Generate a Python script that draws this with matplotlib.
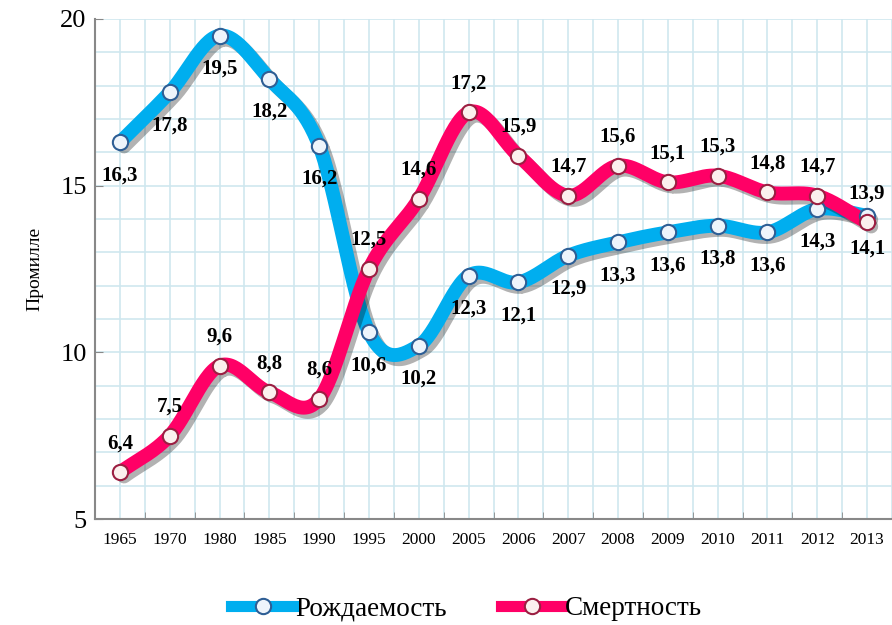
import numpy as np
import matplotlib
matplotlib.use("Agg")
import matplotlib.pyplot as plt
import matplotlib.patheffects as pe
from matplotlib.lines import Line2D

years = ['1965', '1970', '1980', '1985', '1990', '1995', '2000', '2005',
         '2006', '2007', '2008', '2009', '2010', '2011', '2012', '2013']
birth = [16.3, 17.8, 19.5, 18.2, 16.2, 10.6, 10.2, 12.3,
         12.1, 12.9, 13.3, 13.6, 13.8, 13.6, 14.3, 14.1]
death = [6.4, 7.5, 9.6, 8.8, 8.6, 12.5, 14.6, 17.2,
         15.9, 14.7, 15.6, 15.1, 15.3, 14.8, 14.7, 13.9]

BLUE = '#00aeef'
RED = '#ff0066'
SERIF = 'Liberation Serif'


def smooth(x, y, n=30):
    # catmull-rom through the points
    x = np.asarray(x, float)
    y = np.asarray(y, float)
    px = np.concatenate([[2 * x[0] - x[1]], x, [2 * x[-1] - x[-2]]])
    py = np.concatenate([[2 * y[0] - y[1]], y, [2 * y[-1] - y[-2]]])
    t = np.linspace(0, 1, n)
    xs, ys = [], []
    for i in range(1, len(px) - 2):
        for p, out in ((px, xs), (py, ys)):
            p0, p1, p2, p3 = p[i - 1], p[i], p[i + 1], p[i + 2]
            out.append(0.5 * ((2 * p1) + (-p0 + p2) * t
                              + (2 * p0 - 5 * p1 + 4 * p2 - p3) * t ** 2
                              + (-p0 + 3 * p1 - 3 * p2 + p3) * t ** 3))
    return np.concatenate(xs), np.concatenate(ys)


fig = plt.figure(figsize=(8.92, 6.25), dpi=100)
ax = fig.add_axes([95 / 892, 1 - 519 / 625, 797 / 892, 500 / 625])

x = np.arange(len(years))
ax.set_xlim(-0.5, len(years) - 0.5)
ax.set_ylim(5, 20)

# graph-paper grid
for v in np.arange(-0.5, len(years), 0.5):
    ax.axvline(v, color='#cfe7ef', lw=1.2, zorder=0)
for v in np.arange(5, 21, 1):
    ax.axhline(v, color='#cfe7ef', lw=1.2, zorder=0)

shadow = [pe.SimpleLineShadow(offset=(3, -3), shadow_color='black', alpha=0.3), pe.Normal()]

for vals, col, edge, face, dy in ((birth, BLUE, '#2e5e95', '#eef4fb', -33),
                                  (death, RED, '#9b1f42', '#fbf0ee', 29)):
    sx, sy = smooth(x, vals)
    ax.plot(sx, sy, color=col, lw=10, solid_capstyle='round',
            path_effects=shadow, zorder=3)
    ax.plot(x, vals, ls='none', marker='o', ms=11, mfc=face, mec=edge,
            mew=1.5, zorder=4)
    for xi, v in zip(x, vals):
        ax.annotate(('%.1f' % v).replace('.', ','), (xi, v), xytext=(0, dy),
                    textcoords='offset pixels', ha='center', va='center',
                    fontsize=15, fontweight='bold', family=SERIF, zorder=5)

ax.set_xticks(x)
ax.set_xticklabels(years, family=SERIF, fontsize=12.5)
ax.set_xticks(np.arange(0.5, len(years) - 1, 1), minor=True)
ax.tick_params(axis='x', which='major', length=0, pad=9)
ax.tick_params(axis='x', which='minor', direction='in', length=5, color='#888888')
ax.set_yticks([5, 10, 15, 20])
ax.set_yticklabels(['5', '10', '15', '20'], family=SERIF, fontsize=19)
ax.tick_params(axis='y', direction='in', length=6, color='#888888', pad=6)
ax.set_ylabel('Промилле', family=SERIF, fontsize=14, labelpad=12)

for s in ('top', 'right'):
    ax.spines[s].set_visible(False)
for s in ('left', 'bottom'):
    ax.spines[s].set_color('#888888')
    ax.spines[s].set_linewidth(1.5)

handles = [Line2D([], [], color=BLUE, lw=8, marker='o', ms=11, mfc='#eef4fb', mec='#2e5e95', mew=1.5),
           Line2D([], [], color=RED, lw=8, marker='o', ms=11, mfc='#fbf0ee', mec='#9b1f42', mew=1.5)]
fig.legend(handles, ['Рождаемость', 'Смертность'], loc='center',
           bbox_to_anchor=(0.523, 0.026), ncol=2, frameon=False,
           prop={'family': SERIF, 'size': 19.5}, handlelength=2.3,
           handletextpad=0.05, columnspacing=2.0)

fig.savefig('out.png', dpi=100)
